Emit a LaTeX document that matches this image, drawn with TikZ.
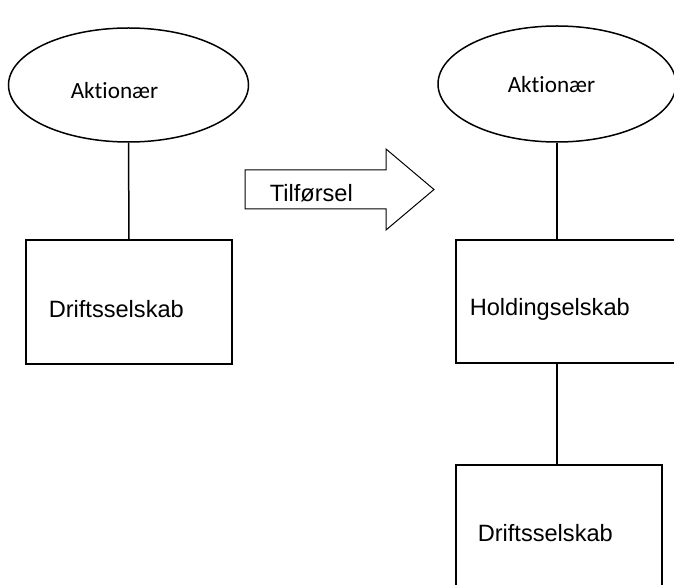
\documentclass[tikz,border=0pt]{standalone}
\usepackage{fontspec}
\setmainfont{Liberation Sans}
\newfontfamily\calib[Ligatures={NoCommon,NoRequired,NoContextual}]{Carlito}
\usetikzlibrary{shapes.geometric}
\begin{document}
\begin{tikzpicture}[x=1pt,y=-1pt,
  line width=1.5pt,
  oval/.style={draw, ellipse, inner sep=0pt},
  box/.style={draw, rectangle, inner sep=0pt},
  lbl/.style={inner sep=0pt, anchor=west, font=\fontsize{23.6}{26}\selectfont},
  albl/.style={inner sep=0pt, font=\calib\fontsize{23.2}{26}\selectfont}]
\useasboundingbox (0,0) rectangle (674,585);
\clip (0,0) rectangle (674,585);
% left side
\node[oval, minimum width=240pt, minimum height=114pt] (e1) at (128.5,85) {};
\node[albl] (t1) at (114.5,91) {Ak{}tionær};
\node[box, minimum width=206pt, minimum height=124pt] (r1) at (129,302) {};
\node[lbl] (t2) at (48,309) {Driftsselskab};
\draw (e1.south) -- (r1.north);
% arrow
\coordinate (a1) at (245,170);
\coordinate (a2) at (386,170);
\coordinate (a3) at (386,149);
\coordinate (a4) at (434,189.5);
\coordinate (a5) at (386,230);
\coordinate (a6) at (386,209);
\coordinate (a7) at (245,209);
\draw[line width=1pt, line join=miter] (a1) -- (a2) -- (a3) -- (a4) -- (a5) -- (a6) -- (a7) -- cycle;
\node[lbl] (t3) at (269,193) {Tilførsel};
% right side
\node[oval, minimum width=238pt, minimum height=116pt] (e2) at (557,84) {};
\node[albl] (t4) at (551.5,85) {Ak{}tionær};
\node[box, minimum width=224pt, minimum height=123pt] (r2) at (568,301.5) {};
\node[lbl] (t5) at (469,309) {Holdingselskab};
\node[box, minimum width=206pt, minimum height=140pt] (r3) at (559,535) {};
\node[lbl] (t6) at (477,533) {Driftsselskab};
\draw (e2.south) -- (e2.south |- r2.north);
\draw (e2.south |- r2.south) -- (e2.south |- r3.north);
\end{tikzpicture}
\end{document}
